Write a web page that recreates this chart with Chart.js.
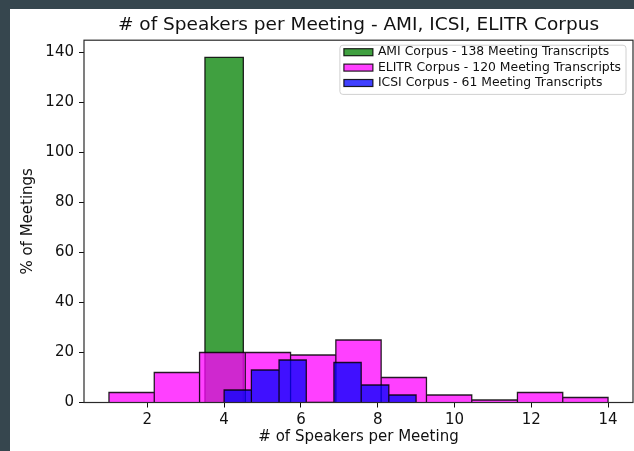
<!DOCTYPE html>
<html>
<head>
<meta charset="utf-8">
<title># of Speakers per Meeting</title>
<script src="https://cdn.jsdelivr.net/npm/chart.js@4.4.1/dist/chart.umd.min.js"></script>
<style>
    html, body {
        margin: 0;
        padding: 0;
        background: #36464e;
        width: 634px;
        height: 451px;
        overflow: hidden;
    }
    .chart-box {
        position: absolute;
        left: 10px;
        top: 9px;
        width: 624px;
        height: 442px;
        background: #ffffff;
    }
</style>
</head>
<body>
<div class="chart-box">
    <canvas id="speakerChart"></canvas>
</div>
<script>
// bin edges and meeting counts for each corpus
const amiEdges = [3.5, 4.5];
const amiCounts = [138];

const elitrEdges = [1, 2.18, 3.36, 4.55, 5.73, 6.91, 8.09, 9.27, 10.45, 11.64, 12.82, 14];
const elitrCounts = [4, 12, 20, 20, 19, 25, 10, 3, 1, 4, 2];

const icsiEdges = [4, 4.71, 5.43, 6.14, 6.86, 7.57, 8.29, 9];
const icsiCounts = [5, 13, 17, 0, 16, 7, 3];

const seriesNames = [
    "AMI Corpus - 138 Meeting Transcripts",
    "ELITR Corpus - 120 Meeting Transcripts",
    "ICSI Corpus - 61 Meeting Transcripts"
];

const xTicks = [2, 4, 6, 8, 10, 12, 14];
const yTicks = [0, 20, 40, 60, 80, 100, 120, 140];

const FONT = "'DejaVu Sans', sans-serif";
const INK = "#111111";

// walk round every bar of a histogram so each one gets its own outline
function histOutline(edges, counts) {
    const pts = [{ x: edges[0], y: 0 }];
    counts.forEach((c, i) => {
        pts.push({ x: edges[i], y: c });
        pts.push({ x: edges[i + 1], y: c });
        pts.push({ x: edges[i + 1], y: 0 });
    });
    return pts;
}

function histDataset(label, edges, counts, color, order) {
    return {
        label: label,
        data: histOutline(edges, counts),
        backgroundColor: color,
        borderColor: "rgba(0,0,0,0.85)",
        borderWidth: 1.3,
        fill: "origin",
        tension: 0,
        pointRadius: 0,
        order: order
    };
}

// matplotlib style axes box drawn over the bars
const frameBox = {
    id: "frameBox",
    afterLayout(chart) {
        // centre the title over the plot area instead of the canvas
        if (chart.titleBlock) {
            chart.titleBlock.left = chart.chartArea.left;
            chart.titleBlock.right = chart.chartArea.right;
        }
    },
    afterDatasetsDraw(chart) {
        const a = chart.chartArea;
        const ctx = chart.ctx;
        ctx.save();
        ctx.strokeStyle = "#2a2a2a";
        ctx.lineWidth = 1.2;
        ctx.strokeRect(a.left, a.top, a.right - a.left, a.bottom - a.top);
        ctx.restore();
    }
};

// legend in the upper right corner of the axes
const cornerLegend = {
    id: "cornerLegend",
    afterDraw(chart) {
        const a = chart.chartArea;
        const ctx = chart.ctx;
        const sets = chart.data.datasets;
        ctx.save();
        ctx.font = "12.4px " + FONT;
        let textW = 0;
        sets.forEach(ds => { textW = Math.max(textW, ctx.measureText(ds.label).width); });

        const boxW = 29, boxH = 7, pad = 4, gap = 5, rowH = 15.4;
        const w = pad + boxW + gap + textW + 5;
        const h = rowH * sets.length + 3;
        const right = a.right - 7;
        const left = right - w;
        const top = a.top + 5;

        ctx.beginPath();
        ctx.roundRect(left, top, w, h, 3);
        ctx.fillStyle = "rgba(255,255,255,0.8)";
        ctx.fill();
        ctx.strokeStyle = "#d0d0d0";
        ctx.lineWidth = 1;
        ctx.stroke();

        sets.forEach((ds, i) => {
            const cy = top + 7 + i * rowH;
            ctx.fillStyle = ds.backgroundColor;
            ctx.fillRect(left + pad, cy - boxH / 2, boxW, boxH);
            ctx.strokeStyle = ds.borderColor;
            ctx.lineWidth = 1.2;
            ctx.strokeRect(left + pad, cy - boxH / 2, boxW, boxH);
            ctx.fillStyle = INK;
            ctx.textBaseline = "middle";
            ctx.textAlign = "left";
            ctx.fillText(ds.label, left + pad + boxW + gap, cy);
        });
        ctx.restore();
    }
};

new Chart(document.getElementById("speakerChart"), {
    type: "line",
    data: {
        datasets: [
            histDataset(seriesNames[0], amiEdges, amiCounts, "rgba(0,128,0,0.75)", 3),
            histDataset(seriesNames[1], elitrEdges, elitrCounts, "rgba(255,0,255,0.75)", 2),
            histDataset(seriesNames[2], icsiEdges, icsiCounts, "rgba(0,0,255,0.75)", 1)
        ]
    },
    options: {
        responsive: true,
        maintainAspectRatio: false,
        animation: false,
        events: [],
        layout: {
            padding: { left: 0, right: 1, top: 0, bottom: 0 }
        },
        plugins: {
            legend: { display: false },
            tooltip: { enabled: false },
            title: {
                display: true,
                text: "# of Speakers per Meeting - AMI, ICSI, ELITR Corpus",
                color: INK,
                font: { family: FONT, size: 18.5, weight: "normal" },
                padding: { top: 5, bottom: 4 }
            }
        },
        scales: {
            x: {
                type: "linear",
                min: 0.35,
                max: 14.65,
                afterFit(scale) { scale.height = 48.5; },
                afterBuildTicks(scale) { scale.ticks = xTicks.map(v => ({ value: v })); },
                border: { display: false },
                grid: {
                    drawOnChartArea: false,
                    drawTicks: true,
                    tickLength: 5,
                    color: INK
                },
                ticks: {
                    color: INK,
                    padding: 4,
                    font: { family: FONT, size: 15 },
                    maxRotation: 0
                },
                title: {
                    display: true,
                    text: "# of Speakers per Meeting",
                    color: INK,
                    font: { family: FONT, size: 15 },
                    padding: { top: 0, bottom: 5 }
                }
            },
            y: {
                min: 0,
                max: 144.9,
                afterFit(scale) { scale.width = 74; },
                afterBuildTicks(scale) { scale.ticks = yTicks.map(v => ({ value: v })); },
                border: { display: false },
                grid: {
                    drawOnChartArea: false,
                    drawTicks: true,
                    tickLength: 5,
                    color: INK
                },
                ticks: {
                    color: INK,
                    padding: 5,
                    font: { family: FONT, size: 15 }
                },
                title: {
                    display: true,
                    text: "% of Meetings",
                    color: INK,
                    font: { family: FONT, size: 15 },
                    padding: { top: 9, bottom: 0 }
                }
            }
        }
    },
    plugins: [frameBox, cornerLegend]
});
</script>
</body>
</html>
